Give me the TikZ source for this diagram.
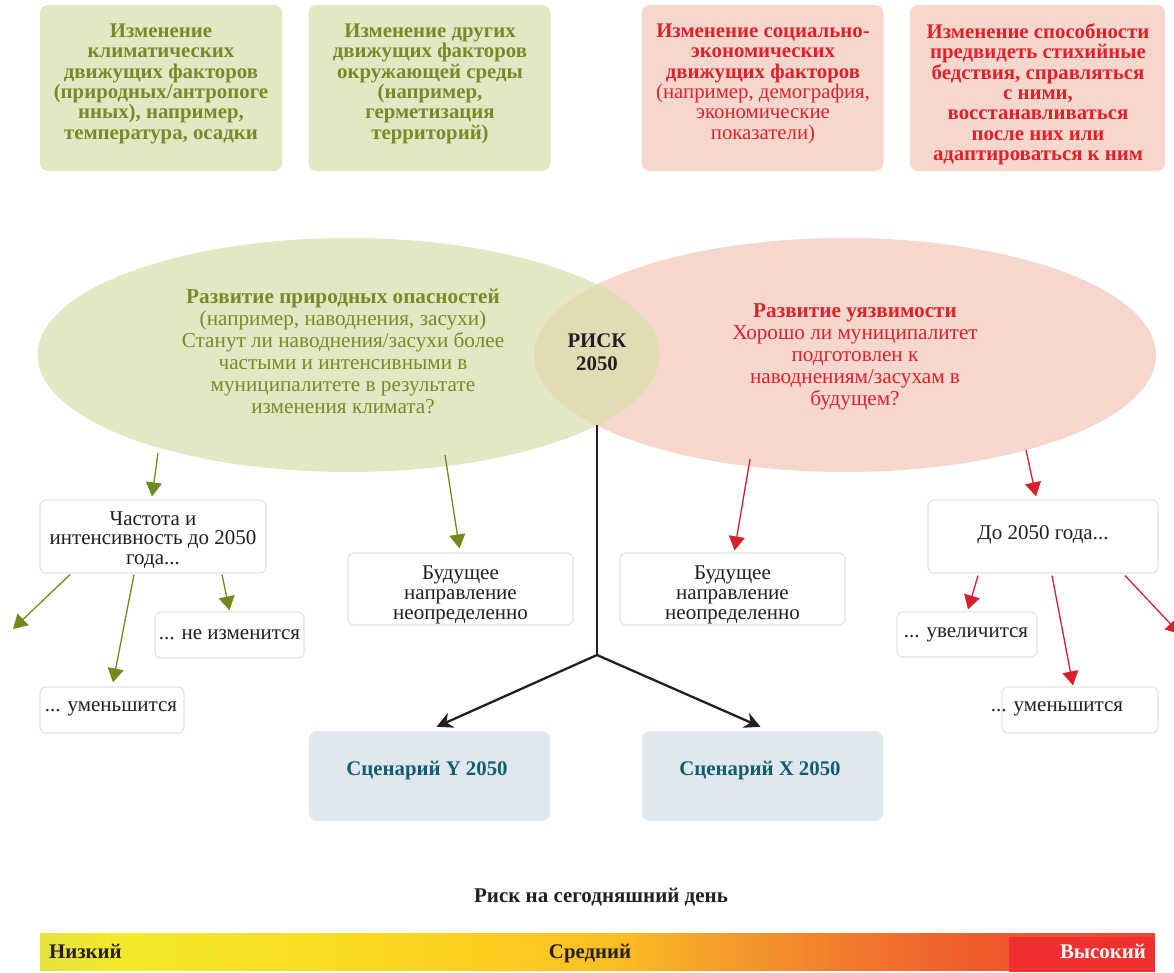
\documentclass[tikz,border=0pt]{standalone}
\usepackage{fontspec}
\setmainfont{Liberation Serif}
\usetikzlibrary{arrows.meta,shapes.geometric}

\definecolor{leafbg}{HTML}{E3E8C4}
\definecolor{rosebg}{HTML}{F6D7CD}
\definecolor{lensbg}{HTML}{E2DCB4}
\definecolor{olivetxt}{HTML}{788A27}
\definecolor{crimsontxt}{HTML}{E2202A}
\definecolor{ink}{HTML}{231F20}
\definecolor{scentxt}{HTML}{135C70}
\definecolor{scenbg}{HTML}{DEE8EE}
\definecolor{frameln}{HTML}{E3E3E3}
\definecolor{leafarr}{HTML}{6F8B1E}
\definecolor{rosearr}{HTML}{D91F2A}
\definecolor{highbg}{HTML}{EE3130}

% risk scale colours, left to right
\definecolor{rs0}{HTML}{E4E13E}
\definecolor{rs1}{HTML}{F3EA2C}
\definecolor{rs2}{HTML}{F8DE22}
\definecolor{rs3}{HTML}{FDCC20}
\definecolor{rs4}{HTML}{FBBD24}
\definecolor{rs5}{HTML}{F59E2B}
\definecolor{rs6}{HTML}{F27A2E}
\definecolor{rs7}{HTML}{EF5E2C}
\definecolor{rs8}{HTML}{EC4532}
\pgfdeclarehorizontalshading{riskscale}{100bp}{
  color(0bp)=(rs0); color(25bp)=(rs0); color(28.1bp)=(rs1);
  color(36.7bp)=(rs2); color(45.6bp)=(rs3); color(51bp)=(rs4);
  color(55.5bp)=(rs5); color(61.3bp)=(rs6); color(66.3bp)=(rs7);
  color(75bp)=(rs8); color(100bp)=(rs8)}

\tikzset{
  factorbox/.style={rounded corners=8pt, minimum width=242pt, minimum height=166pt, inner sep=0pt},
  leafbox/.style={factorbox, fill=leafbg},
  rosebox/.style={factorbox, fill=rosebg},
  factortext/.style={anchor=north, align=center, inner sep=0pt, font=\fontsize{20.8}{20.4}\selectfont},
  bubbletext/.style={align=center, inner sep=0pt, font=\fontsize{21.2}{22}\selectfont},
  whitebox/.style={draw=frameln, line width=1.2pt, fill=white, rounded corners=6pt, inner sep=0pt,
    align=center, text=ink, font=\fontsize{21}{19.8}\selectfont},
  plaintext/.style={align=center, inner sep=0pt, text=ink, font=\fontsize{21}{19.8}\selectfont},
  scenbox/.style={fill=scenbg, rounded corners=8pt, minimum width=241pt, minimum height=90pt, inner sep=0pt},
  scenlabel/.style={inner sep=0pt, text=scentxt, font=\fontsize{20.8}{22}\selectfont\bfseries},
  leafarrow/.style={draw=leafarr, line width=1.3pt, -{Triangle[width=16pt,length=14pt]}},
  rosearrow/.style={draw=rosearr, line width=1.3pt, -{Triangle[width=16pt,length=14pt]}},
  blackline/.style={draw=ink, line width=2.3pt},
  blackarrow/.style={draw=ink, line width=2.3pt, -{Stealth[width=16pt,length=16pt]}},
  scalelabel/.style={inner sep=0pt, font=\fontsize{20.8}{22}\selectfont\bfseries}
}

\begin{document}
\begin{tikzpicture}[x=1pt,y=-1pt]
\useasboundingbox (0,0) rectangle (1174,972);

% driver boxes along the top
\node[leafbox] (climate) at (161,88) {};
\node[leafbox] (environ) at (429.5,88) {};
\node[rosebox] (socio) at (762.5,88) {};
\node[rosebox, minimum width=255pt] (capacity) at (1037.5,88) {};

\node[factortext, text=olivetxt, font=\fontsize{20.8}{20.4}\selectfont\bfseries] (climatetxt) at (161,23.5)
  {Изменение\\климатических\\движущих факторов\\(природных/антропоге\\нных), например,\\температура, осадки};
\node[factortext, text=olivetxt, font=\fontsize{20.8}{20.4}\selectfont\bfseries] (environtxt) at (430,23.5)
  {Изменение других\\движущих факторов\\окружающей среды\\(например,\\герметизация\\территорий)};
\node[factortext, text=crimsontxt] (sociotxt) at (763,23.5)
  {\textbf{Изменение социально-}\\\textbf{экономических}\\\textbf{движущих факторов}\\(например, демография,\\экономические\\показатели)};
\node[factortext, text=crimsontxt, font=\fontsize{20.8}{20.3}\selectfont\bfseries] (capacitytxt) at (1038,23.5)
  {Изменение способности\\предвидеть стихийные\\бедствия, справляться\\с ними,\\восстанавливаться\\после них или\\адаптироваться к ним};

% the two overlapping bubbles
\node[ellipse, fill=leafbg, minimum width=622pt, minimum height=234pt, inner sep=0pt] (hazard) at (348.5,355) {};
\node[ellipse, fill=rosebg, minimum width=622pt, minimum height=234pt, inner sep=0pt] (vuln) at (845,355) {};
\begin{scope}
  \clip (348.5,355) ellipse [x radius=311pt, y radius=117pt];
  \fill[lensbg] (845,355) ellipse [x radius=311pt, y radius=117pt];
\end{scope}

\node[bubbletext, text=olivetxt] (hazardtxt) at (343,351)
  {\textbf{Развитие природных опасностей}\\(например, наводнения, засухи)\\Станут ли наводнения/засухи более\\частыми и интенсивными в\\муниципалитете в результате\\изменения климата?};
\node[bubbletext, text=crimsontxt] (vulntxt) at (855,357)
  {\textbf{Развитие уязвимости}\\Хорошо ли муниципалитет\\подготовлен к\\наводнениям/засухам в\\будущем?};
\node[bubbletext, text=ink, font=\fontsize{20.8}{23}\selectfont\bfseries] (risk) at (597,352) {РИСК\\2050};

% outcome boxes
\node[whitebox, minimum width=226pt, minimum height=73pt] (freq) at (153,536.5) {};
\node[plaintext] (freqtxt) at (153,540) {Частота и\\интенсивность до 2050\\года...};
\node[whitebox, minimum width=225pt, minimum height=72pt] (unsureL) at (460.5,589) {};
\node[plaintext] (unsureLtxt) at (460.5,595) {Будущее\\направление\\неопределенно};
\node[whitebox, minimum width=149pt, minimum height=46pt] (nochange) at (229.5,635) {};
\node[plaintext] (nochangetxt) at (229.5,634.5) {... не изменится};
\node[whitebox, minimum width=144pt, minimum height=46pt] (lessL) at (112,710) {};
\node[plaintext] (lessLtxt) at (111,709) {... уменьшится};

\node[whitebox, minimum width=225pt, minimum height=72pt] (unsureR) at (732.5,589) {};
\node[plaintext] (unsureRtxt) at (732.5,595) {Будущее\\направление\\неопределенно};
\node[whitebox, minimum width=230pt, minimum height=73pt] (upto) at (1043,536.5) {};
\node[plaintext] (uptotxt) at (1043,535) {До 2050 года...};
\node[whitebox, minimum width=140pt, minimum height=45pt] (more) at (967,634.5) {};
\node[plaintext] (moretxt) at (966,635) {... увеличится};
\node[whitebox, minimum width=156pt, minimum height=46pt] (lessR) at (1080,710) {};
\node[plaintext] (lessRtxt) at (1057,709) {... уменьшится};

% scenarios
\node[scenbox] (scenY) at (429.5,776) {};
\node[scenbox] (scenX) at (762.5,776) {};
\node[scenlabel] (scenYtxt) at (427,771) {Сценарий Y 2050};
\node[scenlabel] (scenXtxt) at (760,771) {Сценарий X 2050};

% connectors
\coordinate (edgeL) at (13,629);
\coordinate (edgeR) at (1180,634);
\coordinate (lensfoot) at (597,425);
\coordinate (fork) at (597,655);

\draw[leafarrow] ([shift={(-190.5,98)}]hazard.center) -- ([shift={(-1,-3)}]freq.north);
\draw[leafarrow] ([shift={(96.5,100)}]hazard.center) -- ([shift={(-1,-4)}]unsureL.north);
\draw[leafarrow] ([shift={(-83,1)}]freq.south) -- (edgeL);
\draw[leafarrow] ([shift={(-19,1)}]freq.south) -- ([shift={(1,-4)}]lessL.north);
\draw[leafarrow] ([shift={(69,1)}]freq.south) -- ([shift={(0,-1)}]nochange.north);

\draw[rosearrow] ([shift={(-95,104)}]vuln.center) -- ([shift={(2,-2)}]unsureR.north);
\draw[rosearrow] ([shift={(181,95)}]vuln.center) -- ([shift={(-7,-3)}]upto.north);
\draw[rosearrow] ([shift={(-65,2)}]upto.south) -- ([shift={(1,-2)}]more.north);
\draw[rosearrow] ([shift={(9,2)}]upto.south) -- ([shift={(-7,-1)}]lessR.north);
\draw[rosearrow] ([shift={(82,2)}]upto.south) -- (edgeR);

\draw[blackline] (lensfoot) -- (fork);
\draw[blackarrow] (fork) -- ([shift={(7,-4)}]scenY.north);
\draw[blackarrow] (fork) -- ([shift={(-2,-4)}]scenX.north);

% present-day risk scale
\node[inner sep=0pt, text=ink, font=\fontsize{21}{22}\selectfont\bfseries] (scaletitle) at (601,897) {Риск на сегодняшний день};
\shade[shading=riskscale] (40,933) rectangle (1155,970);
\node[fill=highbg, minimum width=146pt, minimum height=35pt, inner sep=0pt] (highbox) at (1082,954.5) {};
\node[scalelabel, text=ink, anchor=base west] (lowlbl) at (49,958) {Низкий};
\node[scalelabel, text=ink, anchor=base] (midlbl) at (590,958) {Средний};
\node[scalelabel, text=white, anchor=base east] (highlbl) at (1146,958) {Высокий};
\end{tikzpicture}
\end{document}
